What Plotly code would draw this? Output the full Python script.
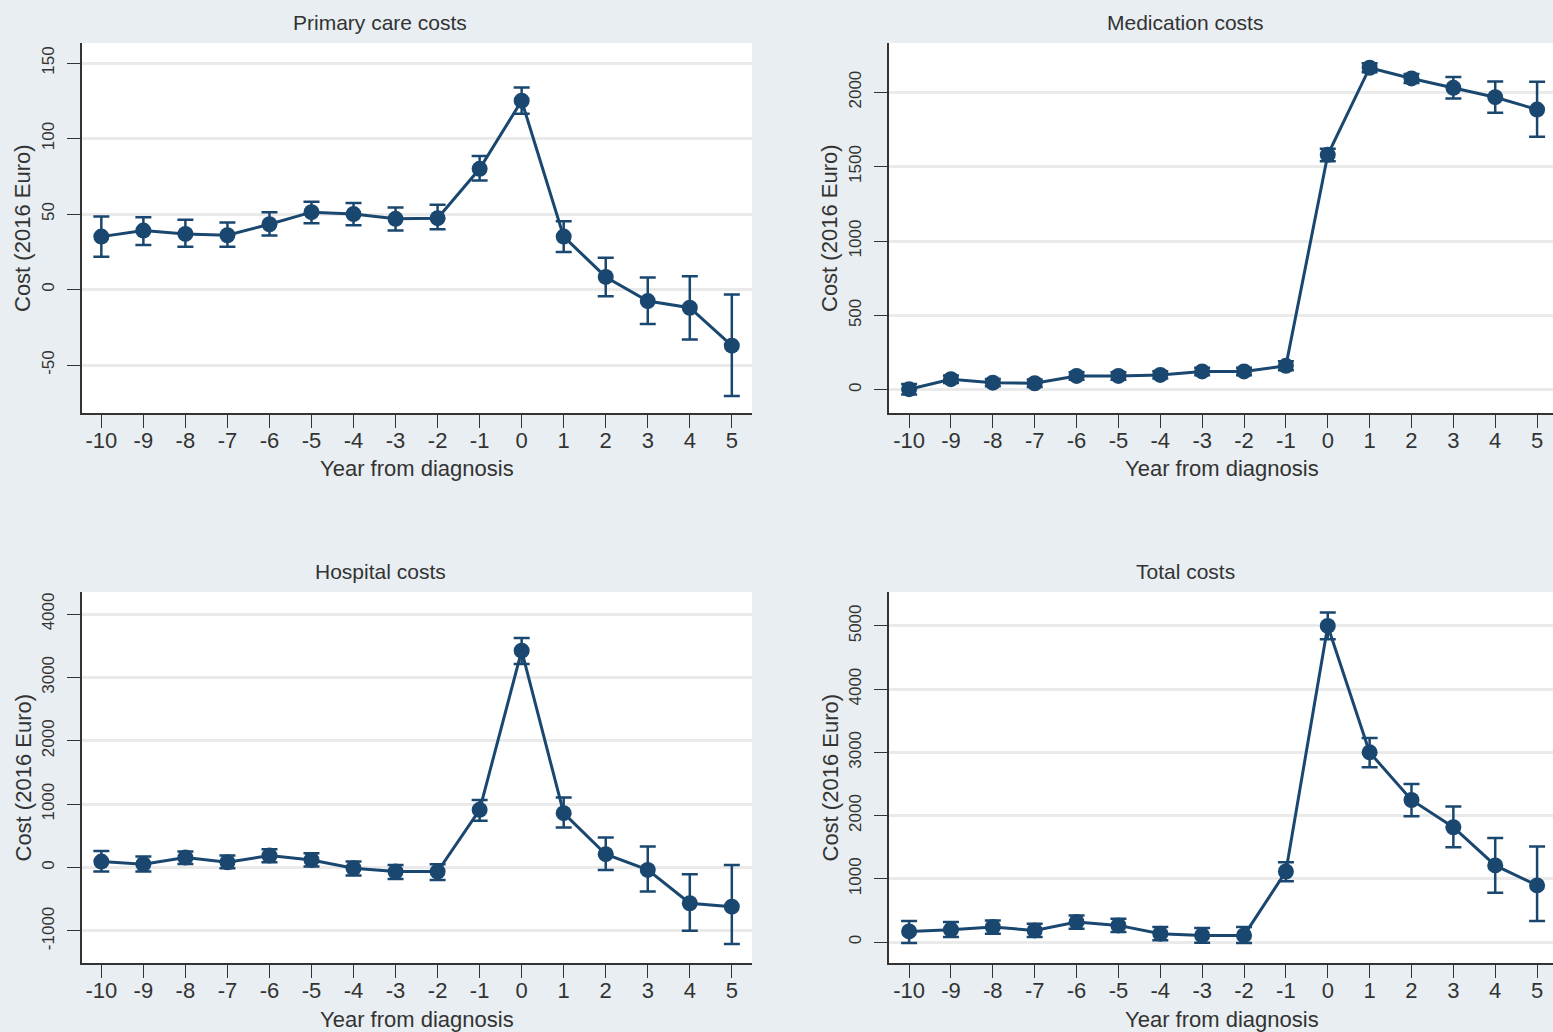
import plotly.graph_objects as go

# Years relative to diagnosis
years = [-10, -9, -8, -7, -6, -5, -4, -3, -2, -1, 0, 1, 2, 3, 4, 5]
year_ticks = [str(y) for y in years]

# Primary care costs: mean and 95% CI
pc_mean = [35.1, 39.1, 36.9, 36.0, 43.3, 51.3, 50.0, 46.9, 47.3, 80.0, 125.1, 35.1, 8.4, -7.6, -12.0, -37.1]
pc_lo = [21.8, 29.6, 28.4, 28.4, 35.8, 44.0, 42.7, 39.1, 40.0, 72.2, 116.4, 24.9, -4.4, -22.7, -33.1, -70.4]
pc_hi = [48.4, 48.0, 46.2, 44.4, 51.3, 58.2, 57.3, 54.4, 56.2, 88.4, 133.8, 45.3, 21.1, 8.0, 8.9, -3.3]

# Medication costs
med_mean = [5, 72, 49, 45, 94, 94, 101, 124, 124, 162, 1579, 2164, 2092, 2029, 1966, 1883]
med_lo = [-30, 47, 24, 20, 69, 69, 76, 99, 99, 132, 1535, 2134, 2062, 1958, 1861, 1700]
med_hi = [40, 97, 74, 70, 119, 119, 126, 149, 149, 192, 1620, 2194, 2122, 2101, 2072, 2070]

# Hospital costs
hosp_mean = [95, 53, 158, 84, 189, 121, -11, -63, -63, 911, 3421, 858, 211, -37, -563, -616]
hosp_lo = [-63, -63, 58, -11, 84, 16, -126, -179, -195, 737, 3211, 632, -37, -379, -995, -1205]
hosp_hi = [263, 174, 253, 189, 289, 226, 95, 42, 53, 1068, 3621, 1105, 474, 332, -105, 42]

# Total costs
tot_mean = [168, 195, 237, 184, 316, 263, 132, 105, 105, 1116, 5000, 3000, 2247, 1816, 1211, 895]
tot_lo = [-16, 79, 132, 79, 211, 158, 26, -11, -16, 963, 4789, 2763, 1989, 1500, 779, 332]
tot_hi = [332, 316, 342, 289, 421, 368, 237, 221, 237, 1263, 5211, 3226, 2500, 2142, 1647, 1511]

titles = ["Primary care costs", "Medication costs", "Hospital costs", "Total costs"]
y_tickvals = [
    [-50, 0, 50, 100, 150],
    [0, 500, 1000, 1500, 2000],
    [-1000, 0, 1000, 2000, 3000, 4000],
    [0, 1000, 2000, 3000, 4000, 5000],
]
y_ranges = [[-81.7, 163.3], [-155, 2330], [-1505, 4347], [-332, 5537]]

W, H = 1553, 1032
NAVY = "#1a476f"
TEXT = "#333333"
FONT = "Liberation Sans, Arial, sans-serif"

# panel boxes in pixels: (left, right, top, bottom)
boxes = [(82, 752, 43, 413), (889, 1553, 43, 413), (82, 752, 592, 963), (889, 1553, 592, 963)]
x_ranges = [[-10.46, 5.48], [-10.48, 5.38], [-10.46, 5.48], [-10.48, 5.38]]
title_cx = [380, 1185, 380, 1185]
xtitle_cx = [417, 1222, 417, 1222]

series = [
    (pc_mean, pc_lo, pc_hi),
    (med_mean, med_lo, med_hi),
    (hosp_mean, hosp_lo, hosp_hi),
    (tot_mean, tot_lo, tot_hi),
]

fig = go.Figure()
layout = dict(
    width=W, height=H,
    margin=dict(l=0, r=0, t=0, b=0),
    paper_bgcolor="#e8eef1",
    plot_bgcolor="white",
    showlegend=False,
    font=dict(family=FONT, color=TEXT),
)
annotations = []

for i, ((m, lo, hi), (l, r, t, b)) in enumerate(zip(series, boxes)):
    k = "" if i == 0 else str(i + 1)
    fig.add_trace(go.Scatter(
        x=years, y=m,
        mode="lines+markers",
        line=dict(color=NAVY, width=3),
        marker=dict(color=NAVY, size=16, symbol="circle"),
        error_y=dict(
            type="data", symmetric=False,
            array=[h - v for h, v in zip(hi, m)],
            arrayminus=[v - q for v, q in zip(m, lo)],
            color=NAVY, thickness=2.5, width=8,
        ),
        xaxis="x" + k, yaxis="y" + k,
    ))
    dx = [l / W, r / W]
    dy = [1 - b / H, 1 - t / H]
    layout["xaxis" + k] = dict(
        domain=dx, range=x_ranges[i], anchor="y" + k,
        tickmode="array", tickvals=years, ticktext=year_ticks,
        ticks="outside", ticklen=13, tickwidth=1.2, tickcolor=TEXT,
        showline=True, linecolor=TEXT, linewidth=1.5,
        showgrid=False, zeroline=False,
        ticklabelstandoff=-6,
        tickfont=dict(size=22, color=TEXT, family=FONT),
    )
    layout["yaxis" + k] = dict(
        domain=dy, range=y_ranges[i], anchor="x" + k,
        tickmode="array", tickvals=y_tickvals[i],
        ticktext=[str(v) for v in y_tickvals[i]],
        ticks="outside", ticklen=13, tickwidth=1.2, tickcolor=TEXT,
        showline=True, linecolor=TEXT, linewidth=1.5,
        showgrid=True, gridcolor="#eaeaea", gridwidth=2.5,
        zeroline=False, tickangle=-90,
        ticklabelstandoff=6,
        tickfont=dict(size=17, color=TEXT, family=FONT),
    )
    # panel title
    annotations.append(dict(
        text=titles[i], x=title_cx[i] / W,
        y=1 - (t - 21) / H, xref="paper", yref="paper",
        xanchor="center", yanchor="middle", showarrow=False,
        font=dict(size=21, color=TEXT, family=FONT),
    ))
    # x axis title
    annotations.append(dict(
        text="Year from diagnosis", x=xtitle_cx[i] / W,
        y=1 - (b + 56) / H, xref="paper", yref="paper",
        xanchor="center", yanchor="middle", showarrow=False,
        font=dict(size=22, color=TEXT, family=FONT),
    ))
    # y axis title
    annotations.append(dict(
        text="Cost (2016 Euro)", x=(l - 59) / W,
        y=1 - (t + b) / 2 / H, xref="paper", yref="paper",
        xanchor="center", yanchor="middle", showarrow=False, textangle=-90,
        font=dict(size=22, color=TEXT, family=FONT),
    ))

layout["annotations"] = annotations
fig.update_layout(**layout)
fig.write_html("out.html")
